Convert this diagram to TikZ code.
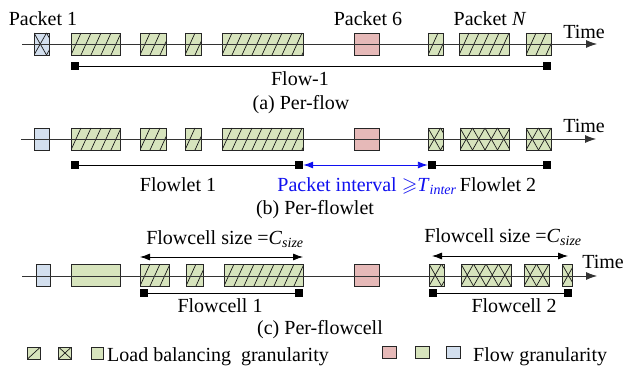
\documentclass[tikz,border=0pt]{standalone}
\usepackage{fontspec}
\usepackage{amssymb}
\setmainfont{Liberation Serif}
\usetikzlibrary{arrows.meta}
\definecolor{lbgreen}{HTML}{D7E4BD}
\definecolor{pkpink}{HTML}{E6B9B8}
\definecolor{flblue}{HTML}{D3DFEE}
\definecolor{ivblue}{HTML}{1010F0}
\newcommand\pk[5]{\node[#2, minimum width={#4pt-#3pt}] (#1) at ({(#3+#4)/2},#5) {};}
\begin{document}
\begin{tikzpicture}[x=1pt,y=-1pt,
  font=\fontsize{20}{24}\selectfont,
  pkt/.style={draw=black!85, line width=0.7pt, inner sep=0pt, outer sep=0pt, minimum height=22pt},
  plaing/.style={pkt, fill=lbgreen},
  hatch/.style={pkt, fill=lbgreen, path picture={
      \foreach \k in {-3,...,10}{\draw[black!90, line width=0.7pt]
        ([xshift=\k*10pt]path picture bounding box.south west) -- ++(10pt,22pt);}}},
  cross/.style={pkt, fill=#1, path picture={
      \foreach \k in {-2,...,8}{
        \draw[black!90, line width=0.7pt]
          ([xshift=\k*12.5pt]path picture bounding box.south west) -- ++(12.5pt,22pt);
        \draw[black!90, line width=0.7pt]
          ([xshift=\k*12.5pt]path picture bounding box.north west) -- ++(12.5pt,-22pt);}}},
  cross/.default=lbgreen,
  pinkp/.style={pkt, fill=pkpink},
  bluep/.style={pkt, fill=flblue},
  axis/.style={draw=black!80, line width=0.8pt, -{Latex[length=11pt,width=8pt]}},
  sq/.style={fill=black, inner sep=0pt, minimum size=8pt},
  fline/.style={draw=black, line width=0.8pt},
  txt/.style={anchor=base, inner sep=0pt},
  dim/.style={draw=black, line width=0.8pt, {Latex[length=10pt,width=7pt]}-{Latex[length=10pt,width=7pt]}},
  lg/.style={draw=black!85, line width=0.7pt, inner sep=0pt, minimum width=13pt, minimum height=12pt}
]
\fill[white] (0,0) rectangle (623,366);
\useasboundingbox (0,0) rectangle (623,366);

% ---------- (a) per-flow ----------
\pk{a1}{cross=flblue}{34}{49}{44}
\pk{a2}{hatch}{71}{120}{44}
\pk{a3}{hatch}{140}{166}{44}
\pk{a4}{hatch}{185}{201}{44}
\pk{a5}{hatch}{222}{303}{44}
\pk{a6}{pinkp}{354}{379}{44}
\pk{a7}{hatch}{428}{443}{44}
\pk{a8}{hatch}{459}{509}{44}
\pk{a9}{hatch}{526}{551}{44}
\coordinate (ax0) at (22,44);
\coordinate (ax1) at (597,44);
\draw[axis] (ax0) -- (ax1);
\node[txt] (ta) at (584,39) {Time};
\node[txt] (p1) at (43,26) {Packet 1};
\node[txt] (p6) at (368,26) {Packet 6};
\node[txt] (pN) at (490,26) {Packet \textit{N}};
\node[sq] (fa1) at (75,66) {};
\node[sq] (fa2) at (547,66) {};
\draw[fline] (fa1) -- (fa2);
\node[txt] (flow1) at (300,86) {Flow-1};
\node[txt] (capa) at (301,110) {(a) Per-flow};

% ---------- (b) per-flowlet ----------
\pk{b1}{bluep}{34}{49}{139}
\pk{b2}{hatch}{71}{120}{139}
\pk{b3}{hatch}{140}{166}{139}
\pk{b4}{hatch}{185}{201}{139}
\pk{b5}{hatch}{222}{303}{139}
\pk{b6}{pinkp}{354}{379}{139}
\pk{b7}{cross}{428}{443}{139}
\pk{b8}{cross}{460}{509}{139}
\pk{b9}{cross}{526}{551}{139}
\coordinate (bx0) at (21,139);
\coordinate (bx1) at (596,139);
\draw[axis] (bx0) -- (bx1);
\node[txt] (tb) at (584,133) {Time};
\node[sq] (fb1) at (75,165) {};
\node[sq] (fb2) at (299,165) {};
\node[sq] (fb3) at (432,165) {};
\node[sq] (fb4) at (547,165) {};
\draw[fline] (fb1) -- (fb2);
\draw[fline] (fb3) -- (fb4);
\draw[draw=ivblue, line width=0.9pt, {Latex[length=10pt,width=7pt]}-{Latex[length=10pt,width=7pt]}] (fb2.east) -- (fb3.west);
\node[txt] (fl1) at (178,191) {Flowlet 1};
\node[txt, text=ivblue] (piv) at (367,191) {Packet interval $\geqslant$\textit{T}\textsubscript{\textit{inter}}};
\node[txt] (fl2) at (498,191) {Flowlet 2};
\node[txt] (capb) at (315,214) {(b) Per-flowlet};

% ---------- (c) per-flowcell ----------
\pk{c1}{bluep}{36}{50}{275}
\pk{c2}{plaing}{71}{120}{275}
\pk{c3}{hatch}{140}{169}{275}
\pk{c4}{hatch}{186}{203}{275}
\pk{c5}{hatch}{224}{303}{275}
\pk{c6}{pinkp}{354}{379}{275}
\pk{c7}{cross}{429}{444}{275}
\pk{c8}{cross}{461}{511}{275}
\pk{c9}{cross}{524}{549}{275}
\pk{c10}{cross}{562}{572}{275}
\coordinate (cx0) at (22,276);
\coordinate (cx1) at (597,276);
\draw[axis] (cx0) -- (cx1);
\node[txt] (tc) at (603,268) {Time};
\coordinate (d1a) at (140,257);
\coordinate (d1b) at (303,257);
\draw[dim] (d1a) -- (d1b);
\coordinate (d2a) at (432,256);
\coordinate (d2b) at (568,256);
\draw[dim] (d2a) -- (d2b);
\node[txt] (cs1) at (225,244) {Flowcell size =\textit{C}\textsubscript{\textit{size}}};
\node[txt] (cs2) at (503,242) {Flowcell size =\textit{C}\textsubscript{\textit{size}}};
\node[sq] (fc1) at (144,293) {};
\node[sq] (fc2) at (299,293) {};
\node[sq] (fc3) at (433,293) {};
\node[sq] (fc4) at (568,293) {};
\draw[fline] (fc1) -- (fc2);
\draw[fline] (fc3) -- (fc4);
\node[txt] (fcl1) at (220,312) {Flowcell 1};
\node[txt] (fcl2) at (514,312) {Flowcell 2};
\node[txt] (capc) at (320,334) {(c) Per-flowcell};

% ---------- legend ----------
\node[lg, fill=lbgreen, path picture={\draw[black!90, line width=0.7pt] (path picture bounding box.south west) -- (path picture bounding box.north east);}] (l1) at (34,353) {};
\node[lg, fill=lbgreen, path picture={\draw[black!90, line width=0.7pt] (path picture bounding box.south west) -- (path picture bounding box.north east) (path picture bounding box.north west) -- (path picture bounding box.south east);}] (l2) at (65,353) {};
\node[lg, fill=lbgreen, minimum width=12pt] (l3) at (97,353) {};
\node[txt, anchor=base west] (lt1) at (107,361) {Load balancing\ \ granularity};
\node[lg, fill=pkpink, minimum width=14pt] (l4) at (389.5,352) {};
\node[lg, fill=lbgreen, minimum width=14pt] (l5) at (422.5,352) {};
\node[lg, fill=flblue, minimum width=14pt] (l6) at (453,352) {};
\node[txt, anchor=base west] (lt2) at (473,361) {Flow granularity};
\end{tikzpicture}
\end{document}
